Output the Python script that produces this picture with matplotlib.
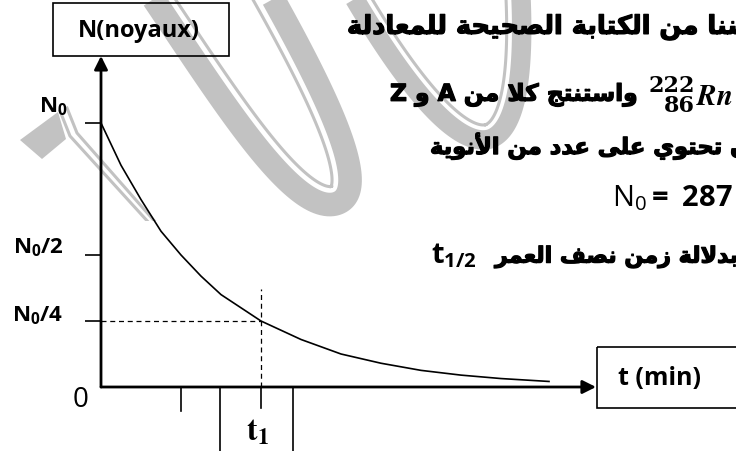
import numpy as np
import matplotlib.pyplot as plt
import matplotlib.patheffects as pe
from matplotlib.patches import Rectangle, Polygon

plt.rcParams['mathtext.fontset'] = 'custom'
plt.rcParams['mathtext.rm'] = 'Open Sans'
plt.rcParams['mathtext.bf'] = 'Open Sans:bold'
plt.rcParams['mathtext.it'] = 'Open Sans:italic'

# radioactive decay: time in half-lives, N/N0
t_read = [0, 0.25, 0.5, 0.75, 1.0, 1.25, 1.5, 1.75, 2.0, 2.5, 3.0, 3.5, 4.0, 4.5, 5.0, 5.6]
n_read = [1.0, 0.84, 0.71, 0.59, 0.50, 0.42, 0.35, 0.30, 0.25, 0.18, 0.125, 0.09, 0.063, 0.045, 0.032, 0.021]

level_vals = [1.0, 0.5, 0.25]
level_labels = [r"$\mathbf{N_0}$", r"$\mathbf{N_0/2}$", r"$\mathbf{N_0/4}$"]
t_half = 1.0
t_one = 2.0
cell_edges = [1.49, 2.4]

line_1 = "تمكننا من الكتابة الصحيحة للمعادلة"
line_2 = "واستنتج كلا من"
line_3 = "ن تحتوي على عدد من الأنوية"
line_5 = "بدلالة زمن نصف العمر"
mass_number, atomic_number, symbol = "222", "86", "Rn"
n0_value = "287"

# --- minimal Arabic shaping (matplotlib draws glyphs left to right, no joining)
_letters = [(0x621, 0xFE80, 1), (0x622, 0xFE81, 2), (0x623, 0xFE83, 2), (0x624, 0xFE85, 2),
            (0x625, 0xFE87, 2), (0x626, 0xFE89, 4), (0x627, 0xFE8D, 2), (0x628, 0xFE8F, 4),
            (0x629, 0xFE93, 2), (0x62A, 0xFE95, 4), (0x62B, 0xFE99, 4), (0x62C, 0xFE9D, 4),
            (0x62D, 0xFEA1, 4), (0x62E, 0xFEA5, 4), (0x62F, 0xFEA9, 2), (0x630, 0xFEAB, 2),
            (0x631, 0xFEAD, 2), (0x632, 0xFEAF, 2), (0x633, 0xFEB1, 4), (0x634, 0xFEB5, 4),
            (0x635, 0xFEB9, 4), (0x636, 0xFEBD, 4), (0x637, 0xFEC1, 4), (0x638, 0xFEC5, 4),
            (0x639, 0xFEC9, 4), (0x63A, 0xFECD, 4), (0x641, 0xFED1, 4), (0x642, 0xFED5, 4),
            (0x643, 0xFED9, 4), (0x644, 0xFEDD, 4), (0x645, 0xFEE1, 4), (0x646, 0xFEE5, 4),
            (0x647, 0xFEE9, 4), (0x648, 0xFEED, 2), (0x649, 0xFEEF, 2), (0x64A, 0xFEF1, 4)]
FORMS = {chr(c): (s, k) for c, s, k in _letters}
LAM_ALEF = {'\u0627': 0xFEFB, '\u0623': 0xFEF7, '\u0625': 0xFEF9, '\u0622': 0xFEF5}


def shape_ar(text):
    out = []
    i, n = 0, len(text)
    while i < n:
        c = text[i]
        if c not in FORMS:
            out.append(c)
            i += 1
            continue
        prev = text[i - 1] if i > 0 else ''
        linked = prev in FORMS and FORMS[prev][1] == 4
        if c == '\u0644' and i + 1 < n and text[i + 1] in LAM_ALEF:
            out.append(chr(LAM_ALEF[text[i + 1]] + (1 if linked else 0)))
            i += 2
            continue
        nxt = text[i + 1] if i + 1 < n else ''
        start, k = FORMS[c]
        to_next = k == 4 and nxt in FORMS
        if k == 1:
            g = start
        elif linked and to_next:
            g = start + 3
        elif to_next:
            g = start + 2
        elif linked:
            g = start + 1
        else:
            g = start
        out.append(chr(g))
        i += 1
    return ''.join(reversed(out))


def bez(p0, p1, p2, p3, n=60):
    s = np.linspace(0, 1, n)[:, None]
    p0, p1, p2, p3 = map(np.asarray, (p0, p1, p2, p3))
    return (1 - s) ** 3 * p0 + 3 * (1 - s) ** 2 * s * p1 + 3 * (1 - s) * s ** 2 * p2 + s ** 3 * p3


def offset(path, d):
    dxy = np.gradient(path, axis=0)
    nrm = np.column_stack([-dxy[:, 1], dxy[:, 0]])
    nrm /= np.hypot(nrm[:, 0], nrm[:, 1])[:, None]
    return path + d * nrm


fig = plt.figure(figsize=(7.36, 4.52), dpi=100)

# page layer in pixel units (y down)
page = fig.add_axes([0, 0, 1, 1])
page.set_xlim(0, 736)
page.set_ylim(452, 0)
page.axis('off')

# grey watermark, only over the upper part of the page
wm = '#c2c2c2'
clip = Rectangle((0, 0), 736, 222, transform=page.transData)
loop1 = np.vstack([bez((140, -20), (215, 90), (290, 215), (335, 205)),
                   bez((335, 205), (375, 195), (330, 100), (262, -20))])
loop2 = np.vstack([bez((343, -20), (400, 80), (455, 150), (490, 140)),
                   bez((490, 140), (520, 130), (525, 60), (520, -20))])
for path, lw, d in [(loop1, 17, -18), (loop2, 14, -15)]:
    for xy, w in [(path, lw), (offset(path, d), 2.2)]:
        ln, = page.plot(xy[:, 0], xy[:, 1], color=wm, lw=w, solid_capstyle='butt', zorder=0)
        ln.set_clip_path(clip)
tri = Polygon([(20, 141), (58, 113), (66, 140), (42, 160)], closed=True, color=wm, lw=0, zorder=0)
page.add_patch(tri)
tri.set_clip_path(clip)
for dx in (0, 7):
    ln, = page.plot([60 + dx, 70 + dx, 150 + dx], [112 - 3 * dx / 7, 137 - 3 * dx / 7, 225], color=wm, lw=2.2, zorder=0)
    ln.set_clip_path(clip)

# label boxes
page.add_patch(Rectangle((53, 4), 176, 53, fill=False, ec='black', lw=1.2, zorder=3))
page.text(139, 31, "N(noyaux)", ha='center', va='center', family='Open Sans', weight='bold', fontsize=17)
page.add_patch(Rectangle((597, 348), 150, 61, fill=False, ec='black', lw=1.2, zorder=3))
page.text(618, 379, "t (min)", ha='left', va='center', family='Open Sans', weight='bold', fontsize=18)

# surrounding Arabic text
heavy = [pe.withStroke(linewidth=0.9, foreground='black')]
ar = dict(family='DejaVu Sans', weight='bold', va='center', ha='left', zorder=2, path_effects=heavy)
page.text(347, 28, shape_ar(line_1), fontsize=18.5, **ar)
page.text(390, 96, "Z " + shape_ar("و") + " A " + shape_ar(line_2), fontsize=16.8, **ar)
# nuclide symbol: mass number over atomic number, then the element
page.text(695, 96, mass_number + "\n" + atomic_number, ha='right', va='center', multialignment='right',
          linespacing=0.85, fontsize=16, family='DejaVu Serif', weight='bold')
page.text(696, 97, r"$\mathbfit{" + symbol + "}$", ha='left', va='center', fontsize=21,
          math_fontfamily='stix', zorder=2)
page.text(430, 147, shape_ar(line_3), fontsize=16.3, **ar)
page.text(612, 198, r"$\mathrm{N}_{\mathrm{0}}\mathbf{=\ " + n0_value + "}$", ha='left', va='center', fontsize=21)
page.text(431, 256, r"$\mathbf{t_{1/2}}$", ha='left', va='center', fontsize=21)
page.text(495, 258, shape_ar(line_5), fontsize=16, **ar)

# decay curve in its own axes: x in half-lives, y in N/N0
ax = fig.add_axes([101 / 736, 64 / 452, 495 / 736, 264 / 452])
ax.set_xlim(0, 495 / 80)
ax.set_ylim(0, 1)
ax.axis('off')
ax.patch.set_alpha(0)

arrow = dict(arrowstyle='-|>', lw=2, color='black', mutation_scale=20, shrinkA=0, shrinkB=0)
ax.annotate('', xy=(0, 1.254), xytext=(0, 0), xycoords='axes fraction', arrowprops=arrow)
ax.annotate('', xy=(1, 0), xytext=(0, 0), xycoords='axes fraction', arrowprops=arrow)

ax.plot(t_read, n_read, color='black', lw=1.2, clip_on=False)

ytr = ax.get_yaxis_transform()
ax.hlines(level_vals, -16 / 495, 0, transform=ytr, color='black', lw=1.2, clip_on=False)
for lvl, lab, dx, dy in zip(level_vals, level_labels, [-17, -22, -22], [17, 8, 6]):
    ax.annotate(lab, xy=(-16 / 495, lvl), xycoords=ytr, xytext=(dx, dy), textcoords='offset pixels',
                ha='right', va='center', fontsize=16)

# guides to N0/4 at t1
ax.plot([0, t_one], [0.25, 0.25], color='black', lw=0.9, ls=(0, (4, 3)))
ax.plot([t_one, t_one], [0, 0.37], color='black', lw=0.9, ls=(0, (4, 3)))
ax.plot([t_one, t_one], [0, -0.08], color='black', lw=1.2, clip_on=False)
ax.plot([t_half, t_half], [0, -0.09], color='black', lw=1.2, clip_on=False)
for x in cell_edges:
    ax.plot([x, x], [0, -0.25], color='black', lw=1.2, clip_on=False)

ax.annotate(r"$\mathbf{t_1}$", xy=(t_one, 0), xytext=(-4, -44), textcoords='offset pixels',
            ha='center', va='center', fontsize=23, math_fontfamily='stix')
ax.annotate("0", xy=(0, 0), xytext=(-20, -12), textcoords='offset pixels',
            ha='center', va='center', fontsize=20, family='Open Sans')

fig.savefig('out.png', dpi=100)
